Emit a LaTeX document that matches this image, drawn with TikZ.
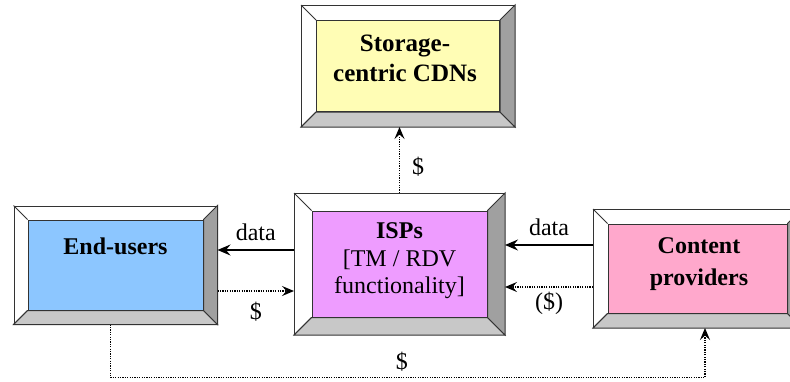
\documentclass[tikz,border=0pt]{standalone}
\usepackage{fontspec}
\setmainfont{Liberation Serif}
\usetikzlibrary{arrows.meta,positioning}
\definecolor{storfill}{HTML}{FFFDB5}
\definecolor{endfill}{HTML}{8CC6FF}
\definecolor{ispfill}{HTML}{EE9CFF}
\definecolor{contfill}{HTML}{FFA8CC}
\definecolor{bevlight}{HTML}{C8C8C8}
\definecolor{bevdark}{HTML}{A0A0A0}
\newcommand{\bevelframe}[1]{%
  \filldraw[bevelbot] (#1F.south west) -- (#1F.south east) -- (#1.south east) -- (#1.south west) -- cycle;
  \filldraw[bevelright] (#1F.south east) -- (#1F.north east) -- (#1.north east) -- (#1.south east) -- cycle;
  \draw[frameline] (#1F.north west) -- (#1.north west) (#1F.south west) -- (#1.south west);
}
\begin{document}
\begin{tikzpicture}[x=1pt, y=-1pt, inner sep=0pt]
    \tikzset{%
      frameline/.style={draw=black!80, line width=1pt},
      outer/.style={frameline, fill=white},
      panel/.style={frameline},
      bevelbot/.style={frameline, fill=bevlight},
      bevelright/.style={frameline, fill=bevdark},
      boxtext/.style={align=center, font=\bfseries\fontsize{24}{30}\selectfont},
      lbl/.style={inner sep=2pt, font=\fontsize{24}{28}\selectfont},
      dataline/.style={line width=1.3pt, -{Stealth[length=13pt, width=11pt, inset=4.5pt]}},
      payline/.style={line width=1.4pt, dash pattern=on 1.2pt off 1.2pt, -{Stealth[length=12pt, width=10pt, inset=4.5pt]}}
      }
    \useasboundingbox (0,0) rectangle (790,381);

    \node [outer, minimum width=213pt, minimum height=121pt] (XstorF) at (408,66) {};
    \node [panel, fill=storfill, minimum width=183pt, minimum height=91pt] (Xstor) at (408,66) {};
    \bevelframe{Xstor}
    \node [boxtext, font=\bfseries\fontsize{25}{30}\selectfont, below=15pt of Xstor.north, xshift=-3pt] (XstorT) {Storage-\\centric CDNs};

    \node [outer, minimum width=203pt, minimum height=118pt] (XendF) at (115.5,265) {};
    \node [panel, fill=endfill, minimum width=175pt, minimum height=90pt] (Xend) at (115.5,265) {};
    \bevelframe{Xend}
    \node [boxtext, below=18pt of Xend.north] (XendT) {End-users};

    \node [outer, minimum width=210pt, minimum height=141pt] (XispF) at (399.5,264) {};
    \node [panel, fill=ispfill, minimum width=175pt, minimum height=106pt] (Xisp) at (399.5,264) {};
    \bevelframe{Xisp}
    \node [boxtext, font=\fontsize{24}{27.5}\selectfont, below=12pt of Xisp.north] (XispT) {\textbf{ISPs}\\{[}TM / RDV\\functionality]};

    \node [outer, minimum width=208pt, minimum height=118pt] (XcontF) at (697.5,268.5) {};
    \node [panel, fill=contfill, minimum width=179pt, minimum height=89pt] (Xcont) at (697.5,268.5) {};
    \bevelframe{Xcont}
    \node [boxtext, font=\bfseries\fontsize{24}{32}\selectfont, below=14pt of Xcont.north, xshift=1.5pt] (XcontT) {Content\\providers};

    % data and money
    \draw [dataline] ([yshift=14pt]XispF.west) -- node [lbl, above=7pt] {data} ([yshift=14pt]XispF.west -| XendF.east);
    \draw [payline] ([yshift=-26pt]XendF.east) -- node [lbl, below=8pt] {\$} ([yshift=-26pt]XendF.east -| XispF.west);
    \draw [dataline] ([yshift=23.5pt]XcontF.west) -- node [lbl, above=7pt] {data} ([yshift=23.5pt]XcontF.west -| XispF.east);
    \draw [payline] ([yshift=-18.5pt]XcontF.west) -- node [lbl, below=2pt] {(\$)} ([yshift=-18.5pt]XcontF.west -| XispF.east);
    \draw [payline] (XispF.north) -- node [lbl, pos=0.4, right=10pt] {\$} (XispF.north |- XstorF.south);
    \draw [payline] ([xshift=-5pt]XendF.south) -- ++(0,53) -| node [lbl, pos=0.245, above=3pt] {\$} ([xshift=7.5pt]XcontF.south);
  \end{tikzpicture}
\end{document}
